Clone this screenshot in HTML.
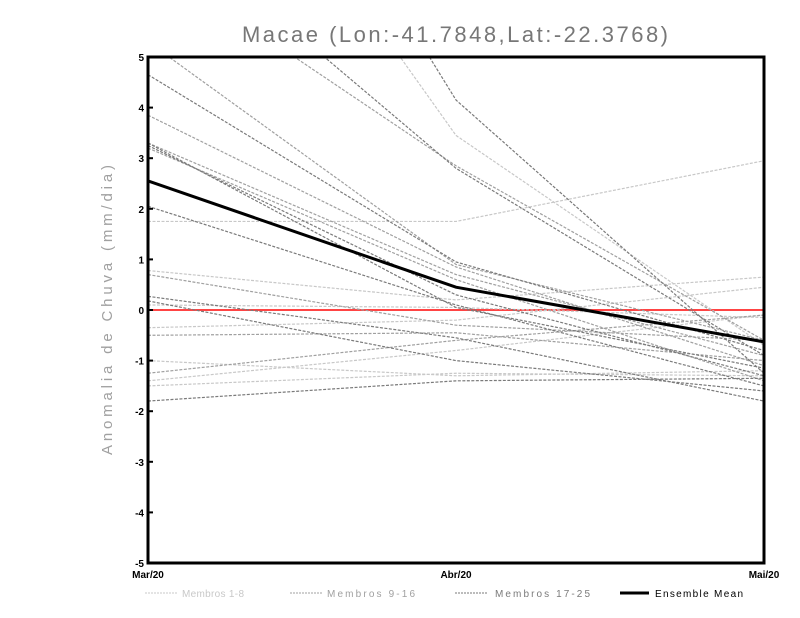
<!DOCTYPE html>
<html><head><meta charset="utf-8"><style>
body{margin:0;background:#fff;}
svg{display:block;font-family:"Liberation Sans",sans-serif;}
</style></head><body>
<svg id="chart" width="800" height="618">
<defs><clipPath id="pc"><rect x="148" y="57" width="616" height="506"/></clipPath></defs>
<text x="242" y="42" textLength="426" lengthAdjust="spacing" font-size="22" fill="#777">Macae (Lon:-41.7848,Lat:-22.3768)</text>
<text transform="translate(112,455) rotate(-90)" textLength="290" lengthAdjust="spacing" font-size="15" fill="#a0a0a0">Anomalia de Chuva (mm/dia)</text>
<g id="lines" clip-path="url(#pc)"></g>
<g id="axes"></g>
<g id="legend"></g>
</svg>
<script>
const categories = ["Mar/20","Abr/20","Mai/20"];
const yTicks = [-5,-4,-3,-2,-1,0,1,2,3,4,5];
const groupA = [[1.75,1.75,2.95],[12,3.45,-0.7],[0.78,0.2,0.65],[-0.35,-0.2,0.45],[-1.0,-1.3,-1.2],[-1.4,-0.8,-0.1],[-1.5,-1.25,-1.3],[0.1,0.05,-0.15]];
const groupB = [[5.3,0.9,-0.6],[3.3,0.7,-0.9],[0.7,-0.3,-0.6],[3.85,0.85,-1.1],[6.95,2.85,-0.6],[3.2,0.6,-1.4],[-0.5,-0.45,-1.0],[-1.25,-0.6,-0.1]];
const groupC = [[4.65,0.95,-0.8],[7.95,2.8,-0.9],[14,4.15,-1.25],[3.25,0.3,-1.3],[2.05,0.1,-1.5],[0.27,-0.55,-1.8],[0.18,-1.0,-1.6],[-1.8,-1.4,-1.35],[3.3,0.05,-1.15]];
const meanSeries = [2.55,0.45,-0.63];
const X0=148,X1=764,Y0=563,Y1=57;
function xs(i){return X0+(X1-X0)*i/(categories.length-1);}
function ys(v){return Y0-(v+5)/10*(Y0-Y1);}
const NS="http://www.w3.org/2000/svg";
const L=document.getElementById('lines'),A=document.getElementById('axes'),G=document.getElementById('legend');
function mk(t,at,p){const e=document.createElementNS(NS,t);for(const k in at)e.setAttribute(k,at[k]);p.appendChild(e);return e;}
function pts(s){return s.map((v,i)=>xs(i)+','+ys(v)).join(' ');}
let z=mk('line',{x1:X0,x2:X1,y1:ys(0),y2:ys(0),stroke:'#f44',"stroke-width":2},L);


[[groupA,'#c8c8c8','member-1-8'],[groupB,'#a0a0a0','member-9-16'],[groupC,'#7a7a7a','member-17-25']].forEach(([g,c,n])=>{
 g.forEach(s=>{const p=mk('polyline',{points:pts(s),fill:'none',stroke:c,"stroke-width":1.2,"stroke-dasharray":"3,1.5"},L);
 
 });
});
let m=mk('polyline',{points:pts(meanSeries),fill:'none',stroke:'#000',"stroke-width":3},L);


let fr=mk('rect',{x:X0,y:Y1,width:X1-X0,height:Y0-Y1,fill:'none',stroke:'#000',"stroke-width":3},A);


yTicks.forEach(v=>{
 mk('line',{x1:X0,x2:X0+5,y1:ys(v),y2:ys(v),stroke:'#000',"stroke-width":2},A);
 const t=mk('text',{x:X0-4,y:ys(v)+4,"text-anchor":"end","font-size":10,"font-weight":"bold"},A);t.textContent=v;
 
 
});
categories.forEach((c,i)=>{
 const t=mk('text',{x:xs(i),y:578,"text-anchor":"middle","font-size":10,"font-weight":"bold"},A);t.textContent=c;
 
 
});
const legendItems=[["Membros 1-8","#c8c8c8",145,182,62],["Membros 9-16","#a0a0a0",290,327,88],["Membros 17-25","#7a7a7a",455,495,95],["Ensemble Mean","#000",620,655,88]];
legendItems.forEach(([lab,c,lx,tx,tw],i)=>{
 const g=mk('g',{},G);
 
 
 mk('line',{x1:lx,x2:lx+(i==3?29:33),y1:593,y2:593,stroke:c,"stroke-width":i==3?3:1,"stroke-dasharray":i==3?"none":"2,1"},g);
 const t=mk('text',{x:tx,y:597,"font-size":10,textLength:tw,lengthAdjust:"spacing",fill:i==3?'#000':c},g);t.textContent=lab;
});
</script>
</body></html>
